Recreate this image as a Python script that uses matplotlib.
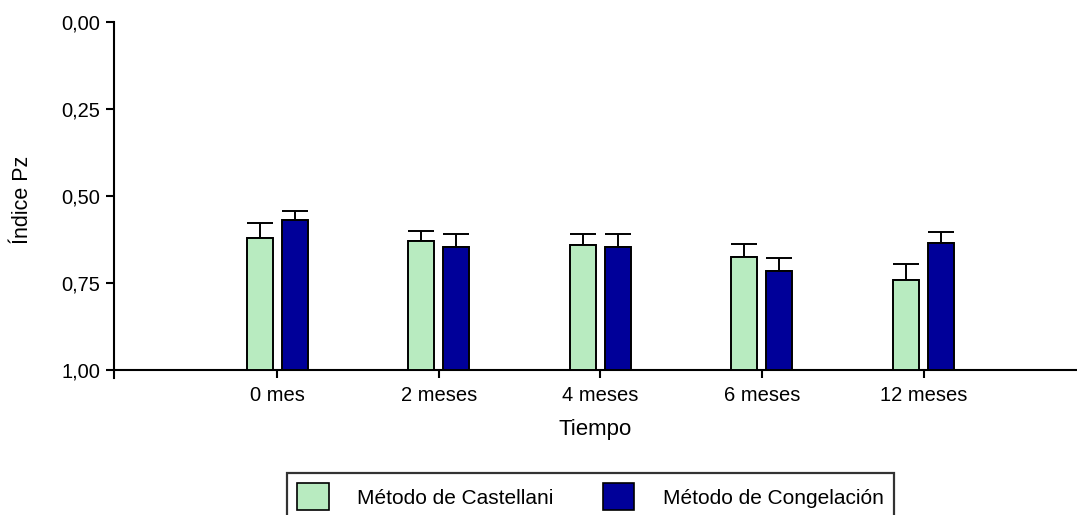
import matplotlib
matplotlib.use("Agg")
import matplotlib.pyplot as plt
import numpy as np
from matplotlib.patches import Patch

categories = ["0 mes", "2 meses", "4 meses", "6 meses", "12 meses"]
castellani = [0.619, 0.629, 0.641, 0.674, 0.742]
castellani_err = [0.042, 0.030, 0.032, 0.036, 0.048]
congelacion = [0.567, 0.647, 0.647, 0.714, 0.634]
congelacion_err = [0.025, 0.038, 0.038, 0.036, 0.030]
yticks = [0.0, 0.25, 0.50, 0.75, 1.00]
ytick_labels = ["0,00", "0,25", "0,50", "0,75", "1,00"]
series_names = ["Método de Castellani", "Método de Congelación"]

green = "#B8EBC0"
blue = "#000099"

plt.rcParams['font.family'] = ['Liberation Sans', 'DejaVu Sans']

W, H = 1077, 515
fig = plt.figure(figsize=(W / 100, H / 100), dpi=100)
left, right = 114 / W, 1.0
top, bottom = 1 - 22 / H, 1 - 378 / H
ax = fig.add_axes([left, bottom, right - left, top - bottom])

x = np.arange(len(categories))
bw = 0.161
off = 0.108
lw = 1.4

for vals, errs, col, sgn in [(castellani, castellani_err, green, -1),
                             (congelacion, congelacion_err, blue, 1)]:
    vals = np.array(vals)
    xs = x + sgn * off
    ax.bar(xs, vals - 1.0, bottom=1.0, width=bw, color=col,
           edgecolor="black", linewidth=lw, zorder=3)
    ax.errorbar(xs, vals, yerr=[errs, [0] * len(errs)], fmt="none",
                ecolor="black", elinewidth=lw, capsize=9.7, capthick=lw,
                zorder=2)

ax.set_xlim(-1.01, 4.95)
ax.set_ylim(1.022, 0.0)
ax.set_yticks(yticks)
ax.set_yticklabels(ytick_labels)
ax.set_xticks(x)
ax.set_xticklabels(categories)
ax.spines['top'].set_visible(False)
ax.spines['right'].set_visible(False)
ax.spines['bottom'].set_position(('data', 1.0))
for s in ['left', 'bottom']:
    ax.spines[s].set_linewidth(1.5)
ax.tick_params(axis='both', direction='out', length=6, width=1.5,
               labelsize=14.5, colors='black')
ax.tick_params(axis='x', pad=5)
ax.tick_params(axis='y', pad=4)
ax.set_ylabel("Índice Pz", fontsize=15.5, labelpad=20)
ax.set_xlabel("Tiempo", fontsize=16, labelpad=10)

handles = [Patch(facecolor=green, edgecolor="black", linewidth=1.2),
           Patch(facecolor=blue, edgecolor="black", linewidth=1.2)]
leg = fig.legend(handles, series_names, loc='upper left',
                 bbox_to_anchor=(287 / W, 1 - 473 / H), ncol=2,
                 fontsize=15, handlelength=1.5, handleheight=1.6,
                 handletextpad=1.35, columnspacing=2.4, borderpad=0.5,
                 borderaxespad=0.0,
                 frameon=True, fancybox=False, edgecolor="black")
leg.get_frame().set_linewidth(1.6)

fig.savefig("out.png", dpi=100)
